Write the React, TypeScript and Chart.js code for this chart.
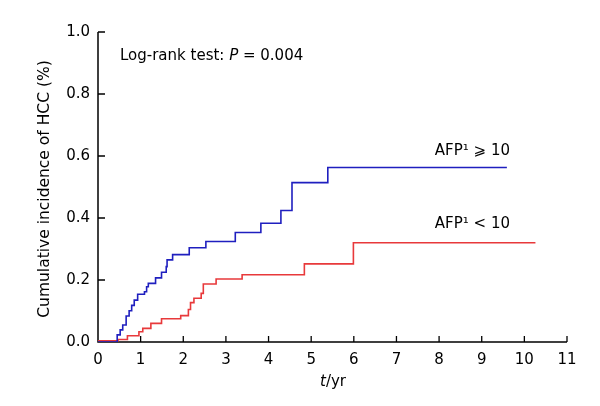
import React, { useEffect, useRef } from "react";
import { Chart, registerables } from "chart.js";

Chart.register(...registerables);

const highTimes = [0, 0.45, 0.52, 0.58, 0.66, 0.73, 0.79, 0.85, 0.93, 1.09, 1.14, 1.18, 1.35, 1.49, 1.6, 1.62, 1.75, 2.14, 2.53, 3.22, 3.82, 4.29, 4.55, 5.39, 9.59];
const highValues = [0, 0.023, 0.039, 0.055, 0.084, 0.101, 0.118, 0.135, 0.154, 0.162, 0.178, 0.189, 0.207, 0.225, 0.243, 0.265, 0.282, 0.304, 0.324, 0.353, 0.383, 0.424, 0.514, 0.563, 0.563];

const lowTimes = [0, 0.47, 0.69, 0.96, 1.05, 1.24, 1.49, 1.94, 2.12, 2.17, 2.25, 2.42, 2.47, 2.77, 3.38, 4.84, 5.99, 10.26];
const lowValues = [0.004, 0.008, 0.02, 0.033, 0.044, 0.06, 0.075, 0.085, 0.105, 0.127, 0.141, 0.157, 0.187, 0.203, 0.217, 0.252, 0.32, 0.32];

const xTicks = [0, 1, 2, 3, 4, 5, 6, 7, 8, 9, 10, 11];
const yTicks = [0, 0.2, 0.4, 0.6, 0.8, 1.0];

const highLabel = "AFP\u00B9 \u2A7E 10";
const lowLabel = "AFP\u00B9 < 10";
const yTitle = "Cumulative incidence of HCC (%)";

const FONT = "DejaVu Sans";
const FS = 15;

const axes = {
  id: "axes",
  beforeDatasetsDraw(chart: any) {
    const ctx = chart.ctx;
    const xs = chart.scales.x;
    const ys = chart.scales.y;
    const x0 = xs.getPixelForValue(0);
    const x11 = xs.getPixelForValue(11);
    const y0 = ys.getPixelForValue(0);
    const y1 = ys.getPixelForValue(1);
    ctx.save();
    ctx.strokeStyle = "#000";
    ctx.lineWidth = 1.5;
    ctx.beginPath();
    ctx.moveTo(x0, y1);
    ctx.lineTo(x0, y0);
    ctx.lineTo(x11, y0);
    ctx.stroke();
    ctx.lineWidth = 1.3;
    ctx.beginPath();
    xTicks.forEach((t) => {
      if (t === 0) return;
      const px = xs.getPixelForValue(t);
      ctx.moveTo(px, y0);
      ctx.lineTo(px, y0 - 6);
    });
    yTicks.forEach((t) => {
      if (t === 0) return;
      const py = ys.getPixelForValue(t);
      ctx.moveTo(x0, py);
      ctx.lineTo(x0 + 7, py);
    });
    ctx.stroke();
    ctx.restore();
  },
  afterDraw(chart: any) {
    const ctx = chart.ctx;
    ctx.save();
    ctx.fillStyle = "#000";
    ctx.textBaseline = "middle";
    const normal = `${FS}px "${FONT}"`;
    const italic = `italic ${FS}px "${FONT}"`;
    let tx = 120;
    const ty = 56;
    ctx.textAlign = "left";
    ctx.font = normal;
    const p1 = "Log-rank test: ";
    ctx.fillText(p1, tx, ty);
    tx += ctx.measureText(p1).width;
    ctx.font = italic;
    ctx.fillText("P", tx, ty);
    tx += ctx.measureText("P").width;
    ctx.font = normal;
    ctx.fillText(" = 0.004", tx, ty);

    ctx.textAlign = "right";
    ctx.fillText(highLabel, 510, 151);
    ctx.fillText(lowLabel, 510, 224);

    ctx.textAlign = "left";
    ctx.font = italic;
    const tW = ctx.measureText("t").width;
    ctx.font = normal;
    const rW = ctx.measureText("/yr").width;
    const cx = 333 - (tW + rW) / 2;
    ctx.font = italic;
    ctx.fillText("t", cx, 382);
    ctx.font = normal;
    ctx.fillText("/yr", cx + tW, 382);

    ctx.save();
    ctx.font = `15.5px "${FONT}"`;
    ctx.translate(45, 189);
    ctx.rotate(-Math.PI / 2);
    ctx.textAlign = "center";
    ctx.fillText(yTitle, 0, 0);
    ctx.restore();
    ctx.restore();
  },
};

export default function App() {
  const ref = useRef<HTMLCanvasElement>(null);
  useEffect(() => {
    const canvas = ref.current;
    if (!canvas) return;
    const chart = new Chart(canvas, {
      type: "line",
      data: {
        datasets: [
          {
            label: "high",
            data: highTimes.map((t, i) => ({ x: t, y: highValues[i] })),
            borderColor: "#1f1fbf",
            borderWidth: 1.6,
            pointRadius: 0,
            stepped: "before",
            fill: false,
          },
          {
            label: "low",
            data: lowTimes.map((t, i) => ({ x: t, y: lowValues[i] })),
            borderColor: "#e8393b",
            borderWidth: 1.6,
            pointRadius: 0,
            stepped: "before",
            fill: false,
          },
        ],
      },
      options: {
        animation: false,
        responsive: false,
        devicePixelRatio: 1,
        layout: { padding: { top: 32, right: 33, bottom: 0, left: 0 } },
        plugins: { legend: { display: false }, tooltip: { enabled: false } },
        scales: {
          x: {
            type: "linear",
            min: 0,
            max: 11,
            grid: { display: false, drawTicks: false },
            border: { display: false },
            afterBuildTicks: (s: any) => {
              s.ticks = xTicks.map((v) => ({ value: v }));
            },
            afterFit: (s: any) => {
              s.height = 64;
            },
            ticks: {
              padding: 9,
              color: "#000",
              font: { family: FONT, size: FS },
              callback: (v: any) => String(v),
              maxRotation: 0,
            },
          },
          y: {
            type: "linear",
            min: 0,
            max: 1,
            grid: { display: false, drawTicks: false },
            border: { display: false },
            afterBuildTicks: (s: any) => {
              s.ticks = yTicks.map((v) => ({ value: v }));
            },
            afterFit: (s: any) => {
              s.width = 98;
            },
            ticks: {
              padding: 8,
              color: "#000",
              font: { family: FONT, size: FS },
              callback: (v: any) => Number(v).toFixed(1),
            },
          },
        },
      },
      plugins: [axes],
    });
    return () => chart.destroy();
  }, []);
  return (
    <div style={{ position: "fixed", left: 0, top: 0, width: 600, height: 406, background: "#fff" }}>
      <canvas ref={ref} width={600} height={406} style={{ width: 600, height: 406 }} />
    </div>
  );
}
